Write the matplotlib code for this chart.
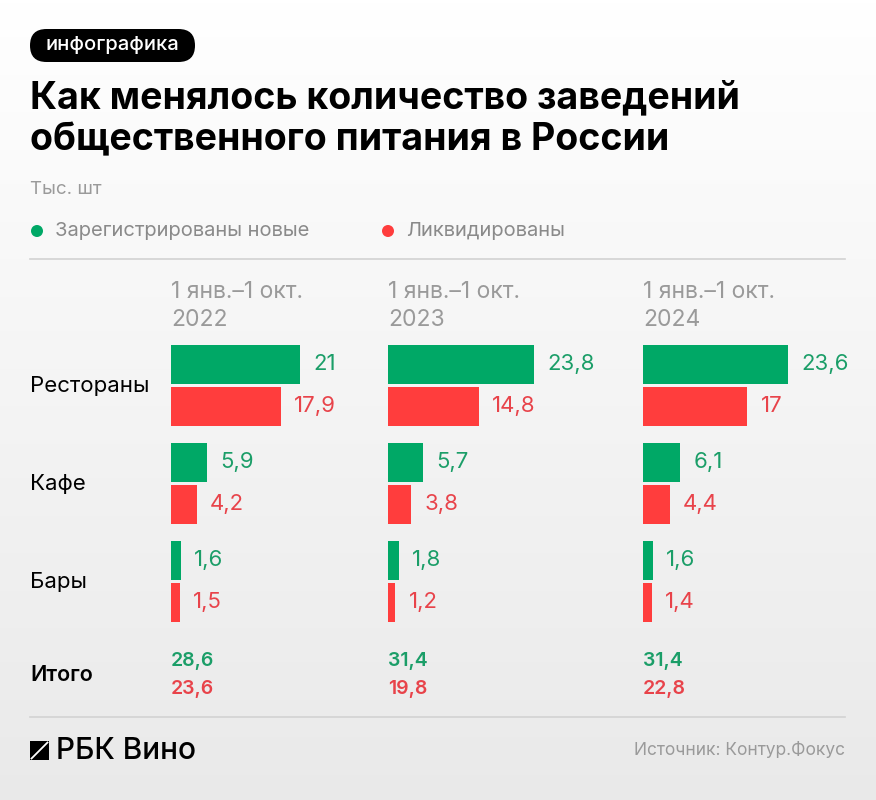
import matplotlib
matplotlib.use("Agg")
import matplotlib.pyplot as plt
import numpy as np
from matplotlib.patches import FancyBboxPatch, Circle, Rectangle

plt.rcParams['font.family'] = ['Inter', 'DejaVu Sans']

# ---------------- data ----------------
categories = ["Рестораны", "Кафе", "Бары"]
periods = ["1 янв.–1 окт.\n2022", "1 янв.–1 окт.\n2023", "1 янв.–1 окт.\n2024"]
registered = [[21, 5.9, 1.6], [23.8, 5.7, 1.8], [23.6, 6.1, 1.6]]
liquidated = [[17.9, 4.2, 1.5], [14.8, 3.8, 1.2], [17, 4.4, 1.4]]
total_registered = [28.6, 31.4, 31.4]
total_liquidated = [23.6, 19.8, 22.8]
series_labels = ["Зарегистрированы новые", "Ликвидированы"]

GREEN = "#00a866"
RED = "#ff3d3d"
GREEN_T = "#1b9e68"
RED_T = "#e8434a"
GRAY = "#9a9a9a"

W, H = 876, 800
fig = plt.figure(figsize=(W / 100, H / 100), dpi=100)

def rect(x0, y0, w, h):
    return [x0 / W, 1 - (y0 + h) / H, w / W, h / H]

def fmt(v):
    return f"{v:g}".replace(".", ",")

# background gradient
bg = fig.add_axes([0, 0, 1, 1], zorder=0)
grad = np.linspace(1.0, 0.915, 256).reshape(-1, 1)
bg.imshow(np.dstack([grad, grad, grad]), aspect='auto', extent=[0, W, H, 0])
bg.set_xlim(0, W); bg.set_ylim(H, 0); bg.axis('off')

ov = fig.add_axes([0, 0, 1, 1], zorder=2)
ov.set_xlim(0, W); ov.set_ylim(H, 0); ov.axis('off')
ov.patch.set_alpha(0)

# pill
ov.add_patch(FancyBboxPatch((30, 29), 165, 33, boxstyle="round,pad=0,rounding_size=16.5",
                            fc="black", ec="none"))
ov.text(112.5, 45.5, "инфографика", color="white", fontsize=14.5, fontweight="medium",
        ha="center", va="center")

# title
ov.text(30, 98, "Как менялось количество заведений", fontsize=27, fontweight="bold",
        ha="left", va="center", color="black")
ov.text(30, 140, "общественного питания в России", fontsize=27, fontweight="bold",
        ha="left", va="center", color="black")

ov.text(30, 190, "Тыс. шт", fontsize=13.5, color=GRAY, ha="left", va="center")

# legend
ov.add_patch(Circle((37, 231), 6, fc=GREEN, ec="none"))
ov.text(55, 231, series_labels[0], fontsize=14.5, color="#8a8a8a", ha="left", va="center")
ov.add_patch(Circle((388, 231), 6, fc=RED, ec="none"))
ov.text(406, 231, series_labels[1], fontsize=14.5, color="#8a8a8a", ha="left", va="center")

# separators
ov.plot([30, 845], [259, 259], color="#d2d2d2", lw=1.2)
ov.plot([30, 845], [717, 717], color="#d2d2d2", lw=1.2)

col_x = [171, 388, 643]
px_per_unit = 6.14
xmax = 30
group_pitch = 98
first_center = 385.5
bar_h = 39 / group_pitch
off = 21 / group_pitch

for c in range(3):
    ov.text(col_x[c], 306, periods[c], fontsize=16.5, color=GRAY, ha="left", va="center",
            linespacing=1.4)
    top = first_center - group_pitch / 2
    ax = fig.add_axes(rect(col_x[c], top, xmax * px_per_unit, group_pitch * 3), zorder=3)
    ax.patch.set_alpha(0)
    y = np.arange(len(categories))
    ax.barh(y - off, registered[c], height=bar_h, color=GREEN)
    ax.barh(y + off, liquidated[c], height=bar_h, color=RED)
    for i in range(len(categories)):
        ax.annotate(fmt(registered[c][i]), (registered[c][i], y[i] - off),
                    xytext=(9.5, 0), textcoords="offset points", va="center", ha="left",
                    fontsize=16, color=GREEN_T)
        ax.annotate(fmt(liquidated[c][i]), (liquidated[c][i], y[i] + off),
                    xytext=(9.5, 0), textcoords="offset points", va="center", ha="left",
                    fontsize=16, color=RED_T)
    ax.set_xlim(0, xmax)
    ax.set_ylim(len(categories) - 0.5, -0.5)
    ax.axis('off')
    ov.text(col_x[c], 661, fmt(total_registered[c]), fontsize=14,
            fontweight="semibold", color=GREEN_T, ha="left", va="center")
    ov.text(col_x[c], 689, fmt(total_liquidated[c]), fontsize=14,
            fontweight="semibold", color=RED_T, ha="left", va="center")

for i, cat in enumerate(categories):
    ov.text(30, first_center + group_pitch * i, cat, fontsize=16, color="black",
            ha="left", va="center")
ov.text(30, 675, "Итого", fontsize=15.5, fontweight="semibold", color="black",
        ha="left", va="center")

# logo
ov.add_patch(Rectangle((30, 741), 19, 19, fc="black", ec="none"))
ov.plot([31.5, 47.5], [758.5, 742.5], color="white", lw=1.3)
ov.text(56, 751, "РБК Вино", fontsize=21.5, fontweight="medium", color="black",
        ha="left", va="center")

ov.text(845, 750, "Источник: Контур.Фокус", fontsize=12.5, color=GRAY, ha="right", va="center")

fig.savefig("out.png", dpi=100)
